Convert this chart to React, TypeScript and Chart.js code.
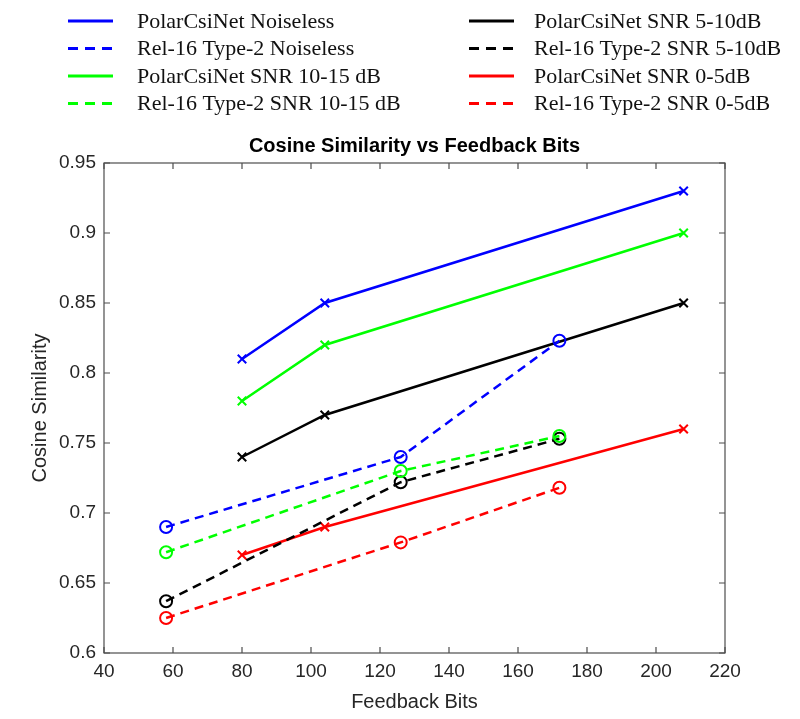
import React, { useEffect, useRef } from "react";
import { Chart, registerables } from "chart.js";

Chart.register(...registerables);

const seriesLabels = [
  "PolarCsiNet Noiseless",
  "Rel-16 Type-2 Noiseless",
  "PolarCsiNet SNR 10-15 dB",
  "Rel-16 Type-2 SNR 10-15 dB",
  "PolarCsiNet SNR 5-10dB",
  "Rel-16 Type-2 SNR 5-10dB",
  "PolarCsiNet SNR 0-5dB",
  "Rel-16 Type-2 SNR 0-5dB",
];

const polarBits = [80, 104, 208];
const rel16Bits = [58, 126, 172];

const polarNoiseless = [0.81, 0.85, 0.93];
const rel16Noiseless = [0.69, 0.74, 0.823];
const polarSnr1015 = [0.78, 0.82, 0.9];
const rel16Snr1015 = [0.672, 0.73, 0.755];
const polarSnr510 = [0.74, 0.77, 0.85];
const rel16Snr510 = [0.637, 0.722, 0.753];
const polarSnr05 = [0.67, 0.69, 0.76];
const rel16Snr05 = [0.625, 0.679, 0.718];

const xTicks = [40, 60, 80, 100, 120, 140, 160, 180, 200, 220];
const yTicks = [0.6, 0.65, 0.7, 0.75, 0.8, 0.85, 0.9, 0.95];

const BLUE = "#0000ff";
const GREEN = "#00ff00";
const BLACK = "#000000";
const RED = "#ff0000";
const DASH = [9, 6];

function pts(xs: number[], ys: number[]) {
  return xs.map((x, i) => ({ x, y: ys[i] }));
}

function ds(label: string, xs: number[], ys: number[], color: string, dashed: boolean) {
  return {
    label,
    data: pts(xs, ys),
    borderColor: color,
    backgroundColor: color,
    borderWidth: 2.5,
    borderDash: dashed ? DASH : [],
    pointStyle: dashed ? "circle" : "crossRot",
    pointRadius: 6,
    pointBorderWidth: 2,
    pointBackgroundColor: "rgba(0,0,0,0)",
    pointBorderColor: color,
    showLine: true,
    fill: false,
    tension: 0,
  };
}

const boxPlugin = {
  id: "matlabBox",
  afterDraw(chart: any) {
    const { ctx, chartArea } = chart;
    const { left, right, top, bottom } = chartArea;
    const xs = chart.scales.x;
    const ys = chart.scales.y;
    ctx.save();
    ctx.strokeStyle = "#4d4d4d";
    ctx.lineWidth = 1.2;
    ctx.setLineDash([]);
    ctx.strokeRect(left, top, right - left, bottom - top);
    const tl = 6;
    ctx.beginPath();
    xTicks.forEach((v) => {
      const px = xs.getPixelForValue(v);
      ctx.moveTo(px, bottom);
      ctx.lineTo(px, bottom - tl);
      ctx.moveTo(px, top);
      ctx.lineTo(px, top + tl);
    });
    yTicks.forEach((v) => {
      const py = ys.getPixelForValue(v);
      ctx.moveTo(left, py);
      ctx.lineTo(left + tl, py);
      ctx.moveTo(right, py);
      ctx.lineTo(right - tl, py);
    });
    ctx.stroke();

    // title
    ctx.fillStyle = "#000";
    ctx.font = "bold 20px 'Liberation Sans', Arial, sans-serif";
    ctx.textAlign = "center";
    ctx.textBaseline = "middle";
    ctx.fillText("Cosine Similarity vs Feedback Bits", (left + right) / 2, 146);

    // legend
    ctx.font = "22px 'Liberation Serif', 'Times New Roman', serif";
    ctx.textAlign = "left";
    const rowsY = [21, 48.5, 76, 103.5];
    const colLine = [68, 469];
    const colText = [137, 534];
    chart.data.datasets.forEach((d: any, i: number) => {
      const col = i < 4 ? 0 : 1;
      const row = i % 4;
      const y = rowsY[row];
      ctx.strokeStyle = d.borderColor;
      ctx.lineWidth = 3;
      ctx.setLineDash(d.borderDash && d.borderDash.length ? [10, 7] : []);
      ctx.beginPath();
      ctx.moveTo(colLine[col], y);
      ctx.lineTo(colLine[col] + 45, y);
      ctx.stroke();
      ctx.setLineDash([]);
      ctx.fillStyle = "#111";
      ctx.fillText(d.label, colText[col], y + 1);
    });
    ctx.restore();
  },
};

export default function App() {
  const ref = useRef<HTMLCanvasElement | null>(null);
  useEffect(() => {
    if (!ref.current) return;
    const chart = new Chart(ref.current, {
      type: "scatter",
      data: {
        datasets: [
          ds(seriesLabels[0], polarBits, polarNoiseless, BLUE, false),
          ds(seriesLabels[1], rel16Bits, rel16Noiseless, BLUE, true),
          ds(seriesLabels[2], polarBits, polarSnr1015, GREEN, false),
          ds(seriesLabels[3], rel16Bits, rel16Snr1015, GREEN, true),
          ds(seriesLabels[4], polarBits, polarSnr510, BLACK, false),
          ds(seriesLabels[5], rel16Bits, rel16Snr510, BLACK, true),
          ds(seriesLabels[6], polarBits, polarSnr05, RED, false),
          ds(seriesLabels[7], rel16Bits, rel16Snr05, RED, true),
        ] as any,
      },
      options: {
        responsive: false,
        animation: false,
        devicePixelRatio: 1,
        layout: { padding: { top: 163, right: 75, left: 0, bottom: 0 } },
        plugins: {
          legend: { display: false },
          title: { display: false },
          tooltip: { enabled: false },
        },
        scales: {
          x: {
            type: "linear",
            min: 40,
            max: 220,
            afterFit: (s: any) => {
              s.height = 66;
            },
            afterBuildTicks: (s: any) => {
              s.ticks = xTicks.map((v) => ({ value: v }));
            },
            grid: { display: false, drawTicks: false },
            border: { display: false },
            ticks: {
              padding: 7,
              color: "#262626",
              font: { family: "'Liberation Sans', Arial, sans-serif", size: 19 },
            },
            title: {
              display: true,
              text: "Feedback Bits",
              color: "#262626",
              padding: { top: 0, bottom: 5 },
              font: { family: "'Liberation Sans', Arial, sans-serif", size: 20 },
            },
          },
          y: {
            type: "linear",
            min: 0.6,
            max: 0.95,
            afterFit: (s: any) => {
              s.width = 104;
            },
            afterBuildTicks: (s: any) => {
              s.ticks = yTicks.map((v) => ({ value: v }));
            },
            grid: { display: false, drawTicks: false },
            border: { display: false },
            ticks: {
              padding: 8,
              color: "#262626",
              font: { family: "'Liberation Sans', Arial, sans-serif", size: 19 },
              callback: (v: any) => String(Number(Number(v).toFixed(2))),
            },
            title: {
              display: true,
              text: "Cosine Similarity",
              color: "#262626",
              padding: { top: 28, bottom: 0 },
              font: { family: "'Liberation Sans', Arial, sans-serif", size: 20 },
            },
          },
        },
      } as any,
      plugins: [boxPlugin],
    });
    return () => chart.destroy();
  }, []);
  return (
    <div style={{ position: "fixed", left: 0, top: 0, width: 800, height: 719, background: "#fff" }}>
      <canvas ref={ref} width={800} height={719} style={{ width: 800, height: 719, display: "block" }} />
    </div>
  );
}
